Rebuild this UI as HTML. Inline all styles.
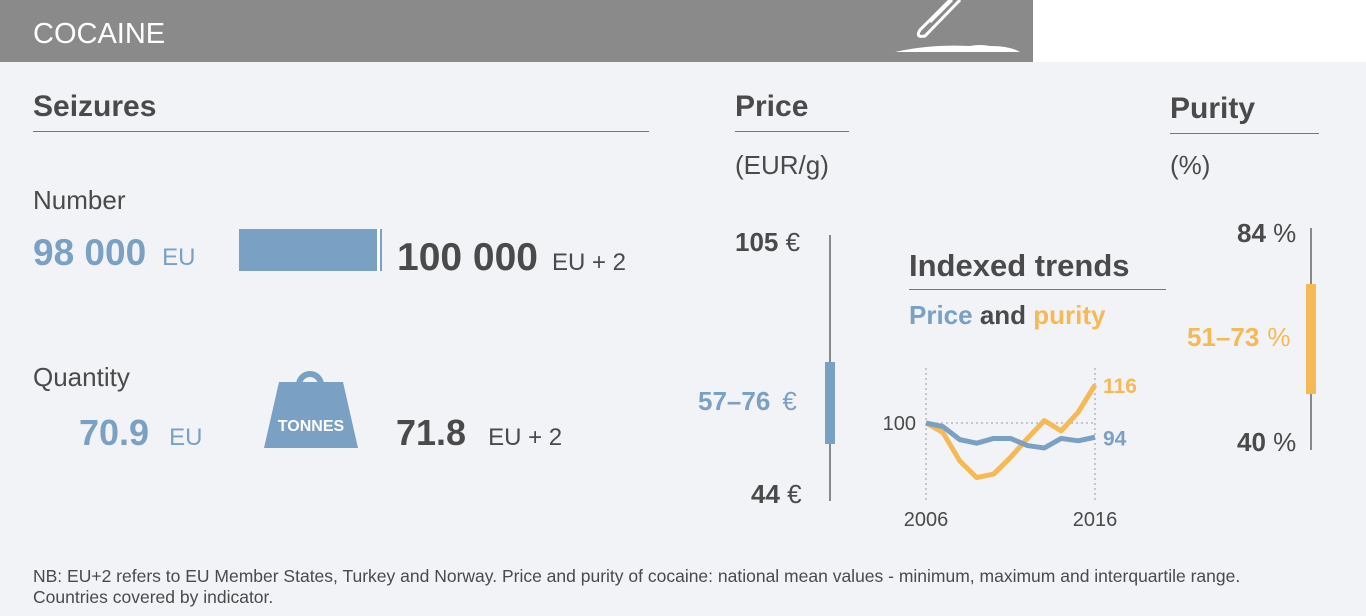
<!DOCTYPE html>
<html><head><meta charset="utf-8"><style>
body{margin:0;width:1366px;height:616px;background:#f2f3f7;font-family:"Liberation Sans",sans-serif;position:relative;overflow:hidden;color:#4a4a4a}
.a{position:absolute;white-space:nowrap}
.b{font-weight:bold}
.blue{color:#7aa0c4}.org{color:#f5b955}.dk{color:#5a5a5a}
.rule{position:absolute;height:1px;background:#777}
</style></head><body>
<div class="a" style="left:0;top:0;width:1033px;height:62px;background:#8a8a8a"></div>
<div class="a" style="left:1033px;top:0;width:333px;height:62px;background:#fff"></div>
<div class="a" style="left:33px;top:18px;font-size:29px;color:#fff">COCAINE</div>
<svg class="a" style="left:890px;top:0" width="140" height="62">
<g fill="none" stroke="#fff" stroke-width="3"><path d="M60 0 L30 30 Q25 38 35 36 L70 0"/><path d="M40 22 L62 0"/></g>
<path d="M5 52 Q40 44 80 46 Q90 44 100 46 Q120 46 130 52 Z" fill="#fff"/></svg>

<div class="a b" style="left:33px;top:90px;font-size:30px">Seizures</div>
<div class="rule" style="left:33px;top:131px;width:616px"></div>
<div class="a b" style="left:735px;top:90px;font-size:30px">Price</div>
<div class="rule" style="left:735px;top:131px;width:114px"></div>
<div class="a" style="left:735px;top:150px;font-size:26px">(EUR/g)</div>
<div class="a b" style="left:1170px;top:92px;font-size:30px">Purity</div>
<div class="rule" style="left:1170px;top:133px;width:149px"></div>
<div class="a" style="left:1170px;top:150px;font-size:26px">(%)</div>

<div class="a" style="left:33px;top:185px;font-size:26px">Number</div>
<div class="a" style="left:33px;top:232px;font-size:24px"><span class="b blue" style="font-size:37px">98 000</span><span class="blue" style="margin-left:16px">EU</span></div>
<div class="a" style="left:239px;top:229px;width:141px;height:42px;background:#7aa0c4;border-right:2px solid #7aa0c4;box-shadow:inset -3px 0 0 #fff"></div>
<div class="a" style="left:397px;top:236px;font-size:24px"><span class="b" style="font-size:39px">100 000</span><span style="margin-left:14px">EU + 2</span></div>

<div class="a" style="left:33px;top:362px;font-size:26px">Quantity</div>
<div class="a" style="left:79px;top:412px;font-size:24px"><span class="b blue" style="font-size:36px">70.9</span><span class="blue" style="margin-left:20px">EU</span></div>
<svg class="a" style="left:260px;top:370px" width="102" height="80">
<circle cx="50" cy="15" r="11" fill="none" stroke="#7aa0c4" stroke-width="6"/>
<path d="M19 12 L83 12 L98 78 L4 78 Z" fill="#7aa0c4"/>
<text x="51" y="61" text-anchor="middle" font-family="Liberation Sans" font-weight="bold" font-size="16" fill="#fff">TONNES</text></svg>
<div class="a" style="left:396px;top:412px;font-size:24px"><span class="b" style="font-size:36px">71.8</span><span style="margin-left:22px">EU + 2</span></div>

<div class="a" style="left:735px;top:227px;font-size:26px"><span class="b">105</span> €</div>
<div class="a" style="left:829px;top:235px;width:2px;height:266px;background:#888"></div>
<div class="a" style="left:825px;top:362px;width:10px;height:82px;background:#7aa0c4"></div>
<div class="a" style="left:698px;top:386px;font-size:26px"><span class="b blue">57–76</span><span class="blue" style="margin-left:12px">€</span></div>
<div class="a" style="left:751px;top:479px;font-size:26px"><span class="b">44</span> €</div>

<div class="a" style="left:1237px;top:218px;font-size:26px"><span class="b">84</span> %</div>
<div class="a" style="left:1310px;top:228px;width:2px;height:222px;background:#888"></div>
<div class="a" style="left:1306px;top:284px;width:10px;height:110px;background:#f5b955"></div>
<div class="a" style="left:1187px;top:322px;font-size:26px"><span class="b org">51–73</span><span class="org" style="margin-left:8px">%</span></div>
<div class="a" style="left:1237px;top:427px;font-size:26px"><span class="b">40</span> %</div>

<div class="a b" style="left:909px;top:248px;font-size:31px">Indexed trends</div>
<div class="rule" style="left:909px;top:289px;width:257px"></div>
<div class="a b" style="left:909px;top:300px;font-size:26px"><span class="blue">Price</span> and <span class="org">purity</span></div>

<svg class="a" id="trend" style="left:860px;top:360px" width="300" height="180"></svg>

<div class="a" style="left:33px;top:566px;font-size:17.5px;line-height:21px">NB: EU+2 refers to EU Member States, Turkey and Norway. Price and purity of cocaine: national mean values - minimum, maximum and interquartile range.<br>Countries covered by indicator.</div>

<script>
const years=[2006,2007,2008,2009,2010,2011,2012,2013,2014,2015,2016];
const priceIdx=[100,98.5,93,91.5,93.5,93.5,90.5,89.5,93.5,92.5,94];
const purityIdx=[100,96,84,77,78.5,85.5,93.5,101,96.7,104.5,116];
const tickYears=[2006,2016];
const svg=document.getElementById('trend');
const ox=860,oy=360;
const X=y=>926+(y-2006)*16.9-ox;
const Y=v=>423-(v-100)*2.375-oy;
const NS='http://www.w3.org/2000/svg';
function mk(t,a){const e=document.createElementNS(NS,t);for(const k in a)e.setAttribute(k,a[k]);svg.appendChild(e);return e;}
tickYears.forEach(t=>{const l=mk('line',{x1:X(t),x2:X(t),y1:8,y2:140,stroke:'#999','stroke-dasharray':'2,3'});


const tx=mk('text',{x:X(t),y:166,'text-anchor':'middle','font-size':20,fill:'#4a4a4a','font-family':'Liberation Sans'});tx.textContent=t;

});
const g=mk('line',{x1:X(2006),x2:X(2016),y1:Y(100),y2:Y(100),stroke:'#999','stroke-dasharray':'2,3'});


const t100=mk('text',{x:X(2006)-10,y:Y(100)+7,'text-anchor':'end','font-size':20,fill:'#4a4a4a','font-family':'Liberation Sans'});t100.textContent='100';


function line(vals,col,name){const p=mk('polyline',{points:vals.map((v,i)=>X(years[i])+','+Y(v)).join(' '),fill:'none',stroke:col,'stroke-width':5,'stroke-linejoin':'round'});


const last=vals[vals.length-1];const t=mk('text',{x:X(years[years.length-1])+8,y:Y(last)+8,'font-size':21,'font-weight':'bold',fill:col,'font-family':'Liberation Sans'});t.textContent=Math.round(last);

}
line(purityIdx,'#f5b955','purity-line');
line(priceIdx,'#7aa0c4','price-line');
</script>
</body></html>
